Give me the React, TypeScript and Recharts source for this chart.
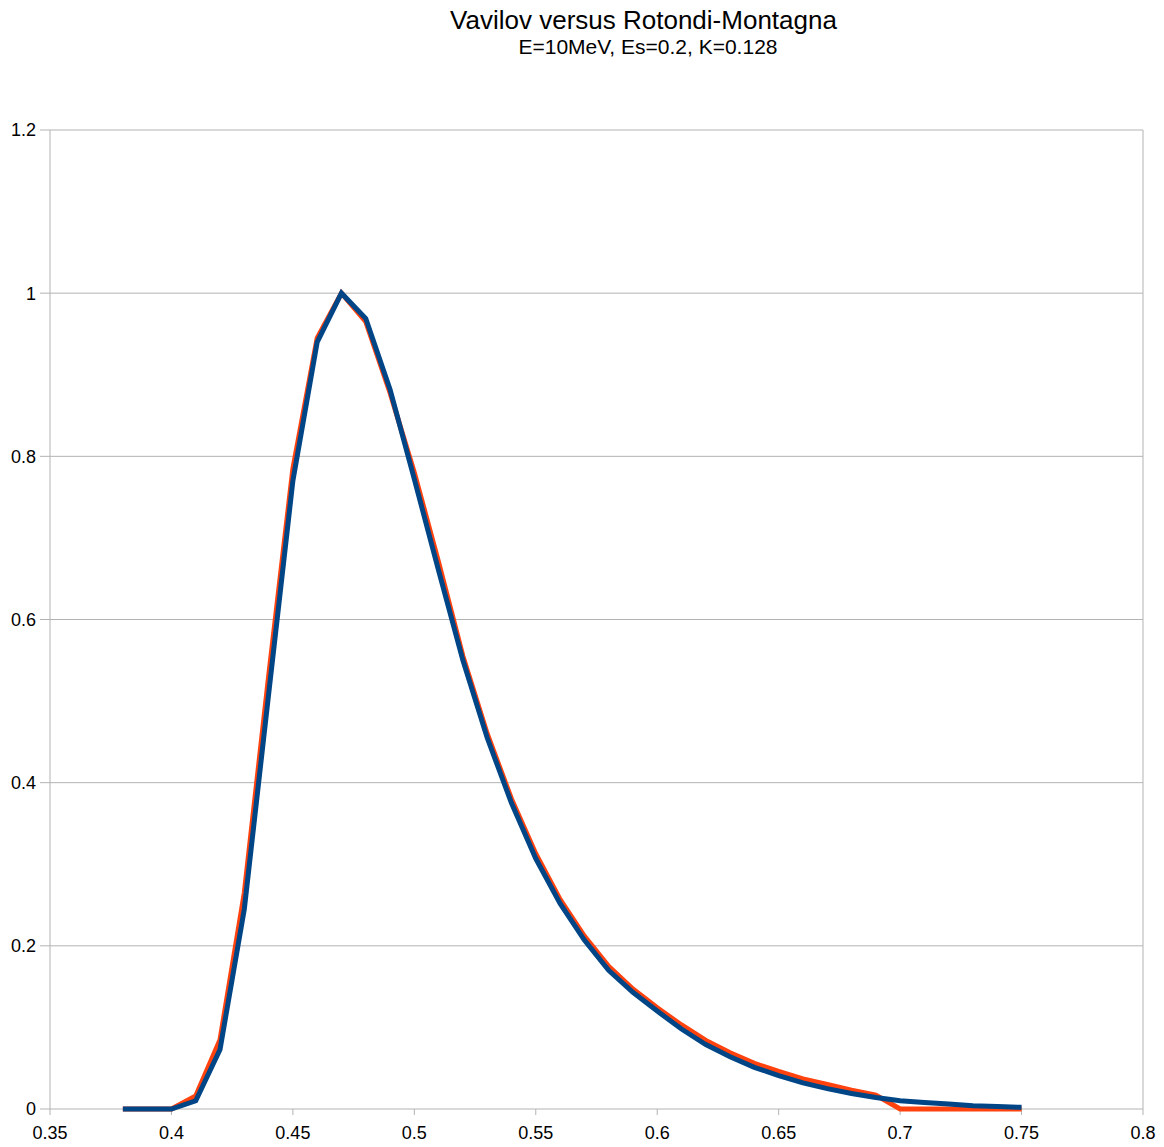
import { CartesianGrid, Line, LineChart, ReferenceLine, XAxis, YAxis } from "recharts";

// Energy-loss fraction (x) and normalised densities for the two models.
const X = [
  0.38, 0.39, 0.4, 0.41, 0.42, 0.43, 0.44, 0.45, 0.46, 0.47, 0.48, 0.49,
  0.5, 0.51, 0.52, 0.53, 0.54, 0.55, 0.56, 0.57, 0.58, 0.59, 0.6, 0.61,
  0.62, 0.63, 0.64, 0.65, 0.66, 0.67, 0.68, 0.69, 0.7, 0.71, 0.72, 0.73,
  0.74, 0.75,
];

const VAVILOV = [
  0, 0, 0, 0.016, 0.085, 0.265, 0.53, 0.785, 0.945, 1.0, 0.965, 0.878,
  0.78, 0.67, 0.555, 0.46, 0.38, 0.313, 0.257, 0.212, 0.175, 0.147, 0.124, 0.103,
  0.084, 0.069, 0.056, 0.046, 0.037, 0.03, 0.023, 0.017, 0, 0, 0, 0,
  0, 0,
];

const ROTONDI = [
  0, 0, 0, 0.01, 0.073, 0.245, 0.508, 0.77, 0.94, 1.0, 0.969, 0.882,
  0.772, 0.66, 0.55, 0.455, 0.375, 0.307, 0.252, 0.207, 0.17, 0.143, 0.12, 0.098,
  0.079, 0.064, 0.051, 0.041, 0.032, 0.025, 0.019, 0.014, 0.01, 0.008, 0.006, 0.004,
  0.003, 0.002,
];

const X_TICKS = [0.35, 0.4, 0.45, 0.5, 0.55, 0.6, 0.65, 0.7, 0.75, 0.8];
const Y_TICKS = [0, 0.2, 0.4, 0.6, 0.8, 1, 1.2];

const data = X.map((x, i) => ({ x, vavilov: VAVILOV[i], rotondi: ROTONDI[i] }));

const GRID = "#b3b3b3";
const FONT = "'Liberation Sans', Arial, sans-serif";

export default function App() {
  return (
    <div style={{ position: "relative", width: 1164, height: 1147, margin: -8, background: "#fff", fontFamily: FONT }}>
      <div style={{ position: "absolute", left: 0, width: 1287, top: 5, textAlign: "center", fontSize: 26, color: "#000", lineHeight: "30px" }}>
        Vavilov versus Rotondi-Montagna
      </div>
      <div style={{ position: "absolute", left: 0, width: 1296, top: 35, textAlign: "center", fontSize: 21, color: "#000", lineHeight: "24px" }}>
        E=10MeV, Es=0.2, K=0.128
      </div>
      <LineChart
        width={1164}
        height={1147}
        data={data}
        margin={{ top: 130, right: 21, bottom: 0, left: 0 }}
        style={{ position: "absolute", left: 0, top: 0 }}
      >
        <CartesianGrid vertical={false} stroke={GRID} strokeWidth={1} />
        <XAxis
          dataKey="x"
          type="number"
          domain={[0.35, 0.8]}
          ticks={X_TICKS}
          interval={0}
          height={38}
          stroke={GRID}
          axisLine={false}
          tickSize={6}
          tickMargin={11}
          tick={{ fontSize: 18, fill: "#000", fontFamily: FONT }}
        />
        <YAxis
          type="number"
          domain={[0, 1.2]}
          ticks={Y_TICKS}
          interval={0}
          width={50}
          stroke={GRID}
          tickSize={10}
          tickMargin={4}
          tick={{ fontSize: 18, fill: "#000", fontFamily: FONT }}
        />
        <ReferenceLine x={0.8} stroke={GRID} strokeWidth={1} />
        <Line
          dataKey="vavilov"
          stroke="#ff420e"
          strokeWidth={5}
          dot={false}
          type="linear"
          zIndex={700}
          isAnimationActive={false}
        />
        <Line
          dataKey="rotondi"
          stroke="#004586"
          strokeWidth={5}
          dot={false}
          type="linear"
          zIndex={710}
          isAnimationActive={false}
        />
      </LineChart>
    </div>
  );
}
